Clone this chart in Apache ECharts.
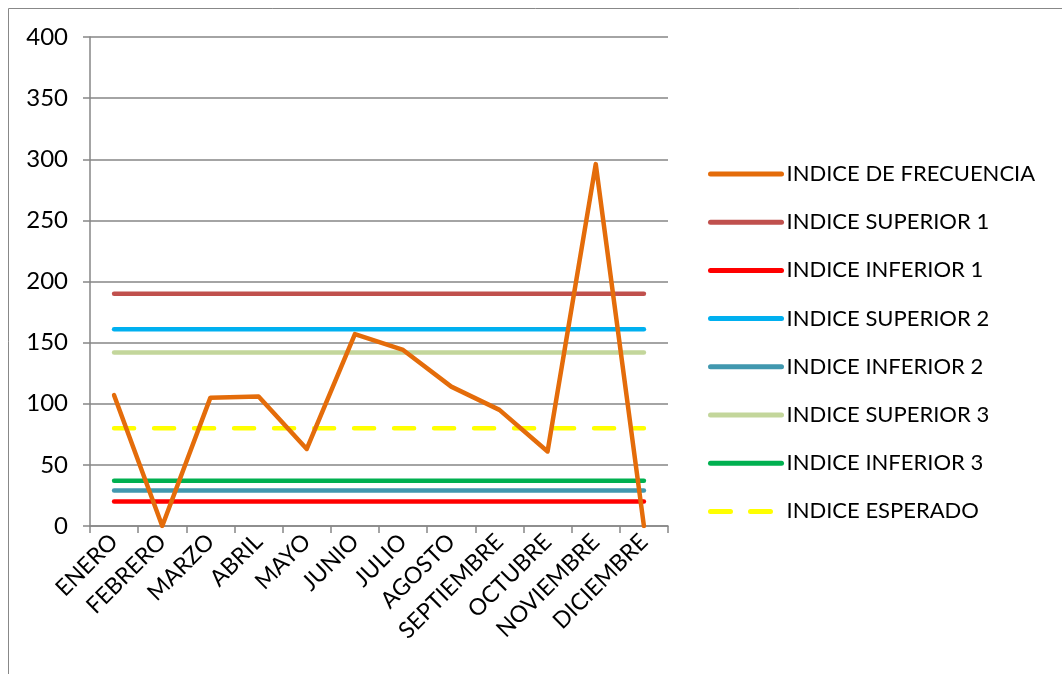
<!DOCTYPE html>
<html>
<head>
<meta charset="utf-8">
<script src="https://cdn.jsdelivr.net/npm/echarts@6/dist/echarts.min.js"></script>
<style>
  html, body { margin: 0; padding: 0; background: #fff; }
  #grafico { width: 1062px; height: 674px; }
</style>
</head>
<body>
<div id="grafico"></div>
<script>
	// DADOS DO GRAFICO
	var meses = ['ENERO','FEBRERO','MARZO','ABRIL','MAYO','JUNIO','JULIO','AGOSTO','SEPTIEMBRE','OCTUBRE','NOVIEMBRE','DICIEMBRE'];
	var frecuencia = [107, 0, 105, 106, 63, 157, 144, 114, 95, 61, 296, 0];
	var superior1 = 190;
	var inferior1 = 20;
	var superior2 = 161;
	var inferior2 = 29;
	var superior3 = 142;
	var inferior3 = 37;
	var esperado = 80;
	var ticksY = [0, 50, 100, 150, 200, 250, 300, 350, 400];

	var fonte = 'Lato, "Open Sans", sans-serif';

	// linha constante em todos os meses
	var constante = function(valor){
		return meses.map(function(){ return valor; });
	}

	var linha = function(nome, cor, dados, tipo){
		return {
			name: nome,
			type: 'line',
			data: dados,
			symbol: 'none',
			z: nome == 'INDICE DE FRECUENCIA' ? 5 : 3,
			lineStyle: { color: cor, width: 4.5, type: tipo || 'solid', cap: 'round', join: 'round' },
			itemStyle: { color: cor },
			emphasis: { disabled: true },
			animation: false
		};
	}

	var myChart = echarts.init(document.getElementById('grafico'));

	var option = {
		animation: false,
		textStyle: { fontFamily: fonte },
		graphic: [
			{ type: 'rect', shape: { x: 8.5, y: 8.5, width: 1060, height: 670 }, style: { fill: 'none', stroke: '#888', lineWidth: 1 }, silent: true }
		],
		grid: { left: 90, right: 394, top: 37, bottom: 148 },
		legend: {
			orient: 'vertical',
			left: 703,
			top: 158,
			itemWidth: 71,
			itemHeight: 24,
			itemGap: 26.2,
			itemStyle: { opacity: 0 },
			lineStyle: { width: 5 },
			textStyle: { fontFamily: fonte, fontSize: 22, color: '#000' },
			data: ['INDICE DE FRECUENCIA','INDICE SUPERIOR 1','INDICE INFERIOR 1','INDICE SUPERIOR 2','INDICE INFERIOR 2','INDICE SUPERIOR 3','INDICE INFERIOR 3','INDICE ESPERADO']
		},
		xAxis: {
			type: 'category',
			data: meses,
			boundaryGap: true,
			axisLine: { lineStyle: { color: '#868686', width: 1.5 } },
			axisTick: { show: true, length: 7, lineStyle: { color: '#868686', width: 1.5 } },
			axisLabel: { rotate: 45, interval: 0, fontSize: 23, color: '#000', fontFamily: fonte, margin: 12 }
		},
		yAxis: {
			type: 'value',
			min: ticksY[0],
			max: ticksY[ticksY.length - 1],
			interval: 50,
			axisLine: { show: true, lineStyle: { color: '#868686', width: 1.5 } },
			axisTick: { show: true, length: 7, lineStyle: { color: '#868686', width: 1.5 } },
			axisLabel: { fontSize: 24, color: '#000', fontFamily: fonte, margin: 22 },
			splitLine: { lineStyle: { color: '#868686', width: 1.5 } }
		},
		series: [
			linha('INDICE DE FRECUENCIA', '#E46C0A', frecuencia),
			linha('INDICE SUPERIOR 1', '#C0504D', constante(superior1)),
			linha('INDICE INFERIOR 1', '#FF0000', constante(inferior1)),
			linha('INDICE SUPERIOR 2', '#00B0F0', constante(superior2)),
			linha('INDICE INFERIOR 2', '#4198AF', constante(inferior2)),
			linha('INDICE SUPERIOR 3', '#C3D69B', constante(superior3)),
			linha('INDICE INFERIOR 3', '#00B050', constante(inferior3)),
			linha('INDICE ESPERADO', '#FFFF00', constante(esperado), [20, 20])
		]
	};
	// aplico as alterações de layout no chart
	myChart.setOption(option);
</script>
</body>
</html>
